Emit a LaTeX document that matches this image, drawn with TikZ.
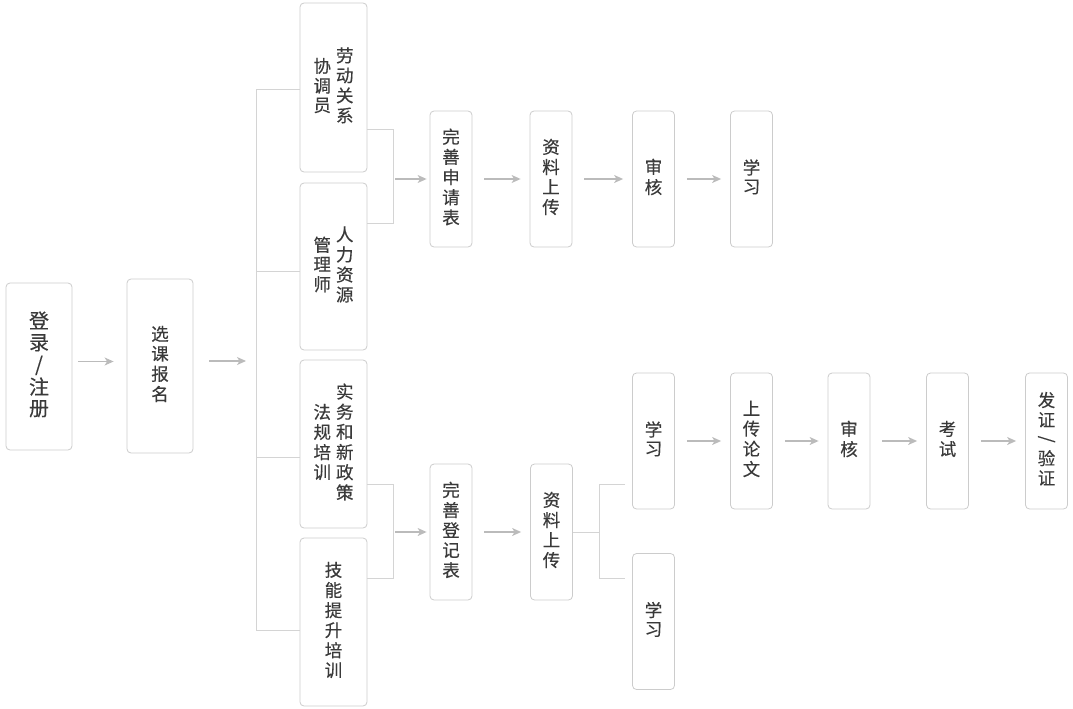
\documentclass[tikz,border=0pt]{standalone}
\usepackage{fontspec}
\newfontfamily\cjk[FakeBold=0.35]{Noto Sans CJK SC}
\usetikzlibrary{arrows.meta,calc}

\definecolor{boxgray}{HTML}{CCCCCC}
\definecolor{linegray}{HTML}{D4D4D4}
\definecolor{arrgray}{HTML}{BBBBBB}
\definecolor{txtgray}{HTML}{3A3A3A}

% one column of upright characters
\newcommand{\vcol}[1]{\begin{tabular}[c]{@{}c@{}}#1\end{tabular}}

\tikzset{
	box/.style={draw=boxgray, line width=0.8pt, rounded corners=4pt, fill=white, inner sep=0pt,
		text=txtgray, font=\cjk\fontsize{17.5}{18.2}\selectfont},
	wide/.style={minimum width=67pt, minimum height=168pt},
	slim/.style={minimum width=42pt, minimum height=136pt},
	flow/.style={draw=arrgray, line width=1.2pt, -{Stealth[length=9pt,width=8pt,inset=2.5pt]},
		shorten <=12pt, shorten >=9pt},
	branch/.style={draw=linegray, line width=0.8pt},
}

\begin{document}
\begin{tikzpicture}[x=1pt, y=-1pt]
	\useasboundingbox (0,0) rectangle (1073,709);
	
	% start
	\node[box, minimum width=66pt, minimum height=167pt, font=\cjk\fontsize{20}{19.5}\selectfont] (login) at (39,366.5) {\vcol{登\\录\\/\\注\\册}};
	\node[box, minimum width=66pt, minimum height=174pt] (course) at (160,366) {\vcol{选\\课\\报\\名}};
	
	% courses
	\node[box, wide, minimum height=169pt] (law) at (333.5,87.5) {\vcol{协\\调\\员}\hspace{5pt}\vcol{劳\\动\\关\\系}};
	\node[box, wide, minimum height=167pt] (hr) at (333.5,266.5) {\vcol{管\\理\\师}\hspace{5pt}\vcol{人\\力\\资\\源}};
	\node[box, wide] (policy) at (333.5,444) {\vcol{法\\规\\培\\训}\hspace{5pt}\vcol{实\\务\\和\\新\\政\\策}};
	\node[box, wide] (skill) at (333.5,622) {\vcol{技\\能\\提\\升\\培\\训}};
	
	% top row
	\node[box, slim] (formA) at (451,179) {\vcol{完\\善\\申\\请\\表}};
	\node[box, slim] (uploadA) at (551,179) {\vcol{资\\料\\上\\传}};
	\node[box, slim] (reviewA) at (653.5,179) {\vcol{审\\核}};
	\node[box, slim] (studyA) at (751.5,179) {\vcol{学\\习}};
	
	% bottom row
	\node[box, slim] (formB) at (451,532) {\vcol{完\\善\\登\\记\\表}};
	\node[box, slim] (uploadB) at (551.5,532) {\vcol{资\\料\\上\\传}};
	\node[box, slim] (studyB) at (653.5,441) {\vcol{学\\习}};
	\node[box, slim] (studyC) at (653.5,621.5) {\vcol{学\\习}};
	\node[box, slim] (thesis) at (751.5,441) {\vcol{上\\传\\论\\文}};
	\node[box, slim] (reviewB) at (849,441) {\vcol{审\\核}};
	\node[box, slim] (exam) at (947.5,441) {\vcol{考\\试}};
	\node[box, slim] (cert) at (1046.5,441) {\vcol{发\\证\\\rotatebox[origin=c]{-90}{/}\\验\\证}};
	
	% bracket joints
	\coordinate (trunk) at (256,361);
	\coordinate (t1) at (256,89);
	\coordinate (t2) at (256,271);
	\coordinate (t3) at (256,457);
	\coordinate (t4) at (256,630);
	\coordinate (ja) at (393,129);
	\coordinate (jb) at (393,223);
	\coordinate (jc) at (393,484);
	\coordinate (jd) at (393,578);
	\coordinate (kb) at (599,532);
	\coordinate (k1) at (599,484);
	\coordinate (k2) at (599,578);
	\coordinate (e1) at (625,484);
	\coordinate (e2) at (625,578);
	
	% start arrows
	\draw[flow, shorten <=6pt, shorten >=13pt] ([yshift=5pt]login.east) -- ([yshift=5pt]login.east -| course.west);
	\draw[flow, shorten <=16pt, shorten >=10pt] ([yshift=5pt]course.east) -- (trunk);
	
	% big bracket
	\draw[branch] (t1) -- (t4);
	\draw[branch] (t1) -- (t1 -| law.west);
	\draw[branch] (t2) -- (t2 -| hr.west);
	\draw[branch] (t3) -- (t3 -| policy.west);
	\draw[branch] (t4) -- (t4 -| skill.west);
	
	% small brackets
	\draw[branch] (ja -| law.east) -- (ja) -- (jb) -- (jb -| hr.east);
	\draw[flow, shorten <=2pt, shorten >=3pt] (ja |- formA.west) -- (formA.west);
	\draw[branch] (jc -| policy.east) -- (jc) -- (jd) -- (jd -| skill.east);
	\draw[flow, shorten <=2pt, shorten >=3pt] (jc |- formB.west) -- (formB.west);
	
	% top row arrows
	\draw[flow] (formA.east) -- (uploadA.west);
	\draw[flow] (uploadA.east) -- (reviewA.west);
	\draw[flow] (reviewA.east) -- (studyA.west);
	
	% bottom row
	\draw[flow] (uploadB.west -| formB.east) -- (uploadB.west);
	\draw[branch] (uploadB.east) -- (kb);
	\draw[branch] (e1) -- (k1) -- (k2) -- (e2);
	\draw[flow] (studyB.east) -- (thesis.west);
	\draw[flow] (thesis.east) -- (reviewB.west);
	\draw[flow] (reviewB.east) -- (exam.west);
	\draw[flow] (exam.east) -- (cert.west);
	
\end{tikzpicture}
\end{document}
